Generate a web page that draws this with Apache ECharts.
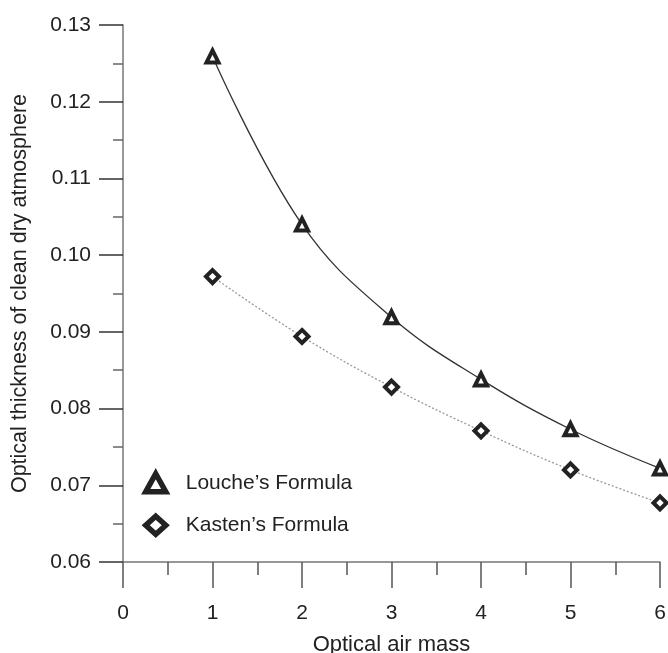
<!DOCTYPE html>
<html>
<head>
<meta charset="utf-8">
<script src="https://cdn.jsdelivr.net/npm/echarts@6/dist/echarts.min.js"></script>
<style>
  html, body { margin: 0; padding: 0; background: #fff; }
  #chart { width: 668px; height: 653px; }
</style>
</head>
<body>
<div id="chart"></div>
<script>
// optical air mass
var airMass = [1, 2, 3, 4, 5, 6];
// optical thickness values
var louche = [0.1259, 0.1040, 0.0919, 0.0838, 0.0773, 0.0722];
var kasten = [0.0972, 0.0894, 0.0828, 0.0771, 0.0720, 0.0677];

var FONT = "'Liberation Sans', Arial, sans-serif";

function pairs(xs, ys) {
  return xs.map(function (x, i) { return [x, ys[i]]; });
}

var chart = echarts.init(document.getElementById('chart'));
chart.setOption({
  animation: false,
  textStyle: { fontFamily: FONT },
  grid: { left: 123, right: 8, top: 25, bottom: 91, containLabel: false, outerBoundsMode: 'none' },
  xAxis: {
    type: 'value',
    min: 0, max: 6, interval: 1,
    name: 'Optical air mass',
    nameLocation: 'middle',
    nameGap: 72,
    nameTextStyle: { fontSize: 22, color: '#222', fontFamily: FONT },
    axisLine: { lineStyle: { color: '#777', width: 1.5 } },
    axisTick: { show: true, inside: false, length: 26, lineStyle: { color: '#555', width: 1.5 } },
    minorTick: { show: true, splitNumber: 2, length: 13, lineStyle: { color: '#555', width: 1.5 } },
    axisLabel: { fontSize: 21, color: '#222', margin: 41, fontFamily: FONT },
    splitLine: { show: false }
  },
  yAxis: {
    type: 'value',
    min: 0.06, max: 0.13, interval: 0.01,
    name: 'Optical thickness of clean dry atmosphere',
    nameLocation: 'middle',
    nameGap: 92,
    nameTextStyle: { fontSize: 21.5, color: '#222', fontFamily: FONT },
    axisLine: { show: true, lineStyle: { color: '#777', width: 1.5 } },
    axisTick: { show: true, inside: false, length: 24, lineStyle: { color: '#333', width: 1.5 } },
    minorTick: { show: true, splitNumber: 2, length: 10, lineStyle: { color: '#666', width: 1.5 } },
    axisLabel: {
      fontSize: 21, color: '#222', margin: 32, fontFamily: FONT,
      formatter: function (v) { return v.toFixed(2); }
    },
    splitLine: { show: false }
  },
  legend: {
    orient: 'vertical',
    left: 138, top: 466,
    itemWidth: 20, itemHeight: 18,
    itemGap: 19,
    textStyle: { fontSize: 21, color: '#222', fontFamily: FONT, padding: [0, 0, 0, 15] },
    data: [
      { name: 'Louche\u2019s Formula', icon: 'triangle',
        itemStyle: { color: '#fff', borderColor: '#222', borderWidth: 5.5 } },
      { name: 'Kasten\u2019s Formula', icon: 'diamond',
        itemStyle: { color: '#fff', borderColor: '#222', borderWidth: 5.5 } }
    ]
  },
  series: [
    {
      name: 'Louche\u2019s Formula',
      type: 'line',
      smooth: 0.4,
      data: pairs(airMass, louche),
      symbol: 'triangle',
      symbolSize: 12,
      itemStyle: { color: '#fff', borderColor: '#222', borderWidth: 4 },
      lineStyle: { color: '#333', width: 1.3, type: 'solid' },
      z: 3
    },
    {
      name: 'Kasten\u2019s Formula',
      type: 'line',
      smooth: 0.4,
      data: pairs(airMass, kasten),
      symbol: 'diamond',
      symbolSize: 13,
      itemStyle: { color: '#fff', borderColor: '#222', borderWidth: 4 },
      lineStyle: { color: '#999', width: 1.3, type: [2, 2] },
      z: 2
    }
  ]
});
</script>
</body>
</html>
